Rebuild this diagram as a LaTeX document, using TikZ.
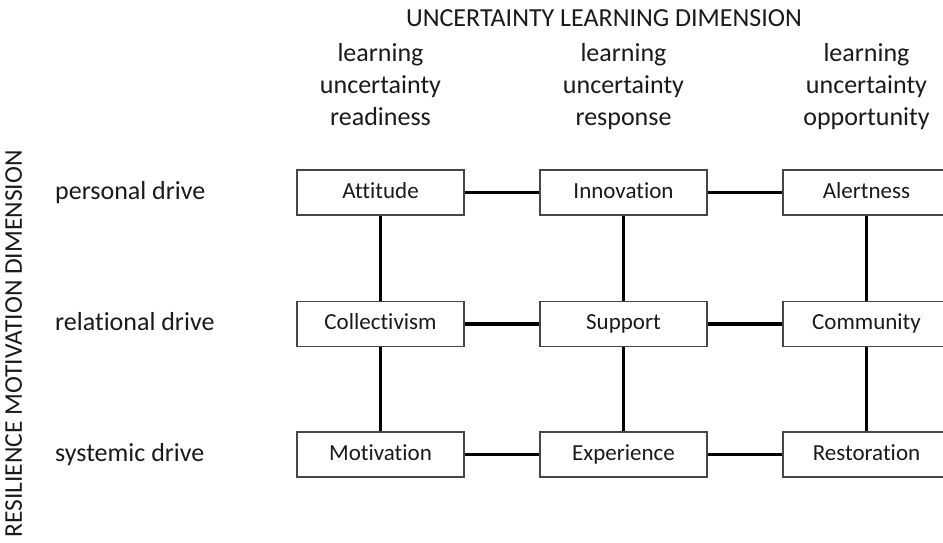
\documentclass[tikz,border=0pt]{standalone}
\usepackage{fontspec}
\setmainfont{Carlito}[Ligatures={NoCommon}]
\definecolor{textc}{RGB}{25,25,30}
\definecolor{boxgray}{RGB}{70,70,70}
\begin{document}
\begin{tikzpicture}[x=1pt,y=-1pt,
  box/.style={draw=boxgray, line width=1.2pt, minimum width=167pt, minimum height=45pt,
    inner sep=0pt, text=textc, font=\fontsize{23}{27}\selectfont, text height=17.2pt, text depth=5.8pt},
  link/.style={line width=3.2pt, draw=black},
  lbl/.style={inner sep=0pt, text=textc, font=\fontsize{26}{32}\selectfont, text height=19.5pt, text depth=6.5pt},
  head/.style={inner sep=0pt, text=textc, align=center, font=\fontsize{26}{32}\selectfont},
  ]
\useasboundingbox (0,0) rectangle (943,542);
\clip (0,0) rectangle (943,542);

% titles
\node[lbl] (ttl) at (604,20) {UNCERTAINTY LEARNING DIMENSION};
\node[lbl, font=\fontsize{25.5}{30}\selectfont, text height=19.1pt, text depth=6.4pt, rotate=90] (vtl) at (15.6,344) {RESILIENCE MOTIVATION DIMENSION};

% column headers
\node[head] (h1) at (380.5,86.6) {\strut learning\\\strut uncertainty\\\strut readiness};
\node[head] (h2) at (623.5,86.6) {\strut learning\\\strut uncertainty\\\strut response};
\node[head] (h3) at (866.5,86.6) {\strut learning\\\strut uncertainty\\\strut opportunity};

% row labels
\node[lbl, anchor=west] (r1) at (55,192.5) {personal drive};
\node[lbl, anchor=west] (r2) at (55,324) {relational drive};
\node[lbl, anchor=west] (r3) at (55,454.5) {systemic drive};

% boxes
\node[box] (a1) at (380.5,192.5) {Attitude};
\node[box] (a2) at (623.5,192.5) {Innovation};
\node[box] (a3) at (866.5,192.5) {Alertness};
\node[box] (b1) at (380.5,324) {Collectivism};
\node[box] (b2) at (623.5,324) {Support};
\node[box] (b3) at (866.5,324) {Community};
\node[box] (c1) at (380.5,454.5) {Motivation};
\node[box] (c2) at (623.5,454.5) {Experience};
\node[box] (c3) at (866.5,454.5) {Restoration};

% connectors
\draw[link] (a1) -- (a2);
\draw[link] (a2) -- (a3);
\draw[link] (b1) -- (b2);
\draw[link] (b2) -- (b3);
\draw[link] (c1) -- (c2);
\draw[link] (c2) -- (c3);
\draw[link] (a1) -- (b1);
\draw[link] (b1) -- (c1);
\draw[link] (a2) -- (b2);
\draw[link] (b2) -- (c2);
\draw[link] (a3) -- (b3);
\draw[link] (b3) -- (c3);
\end{tikzpicture}
\end{document}
